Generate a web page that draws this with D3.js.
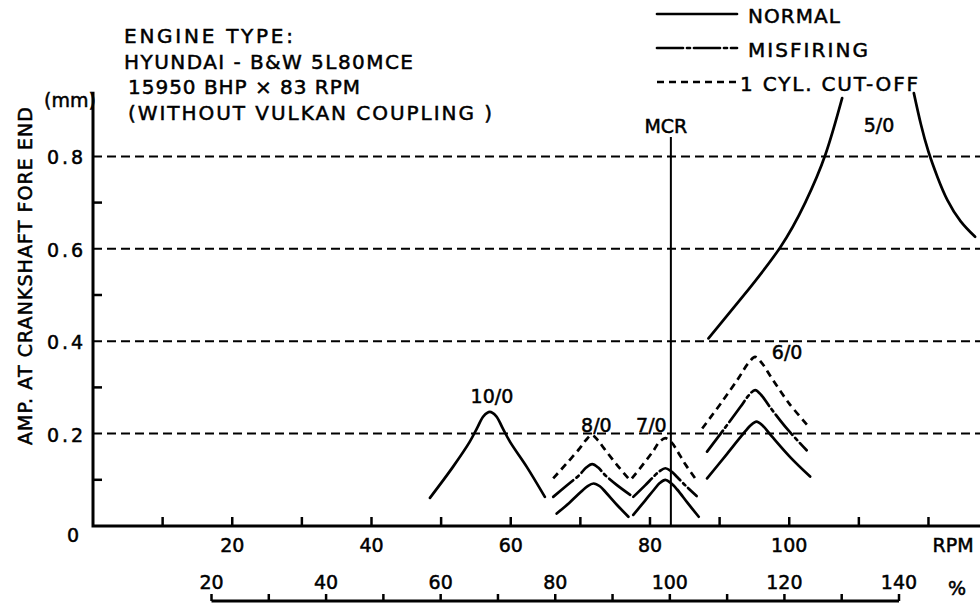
<!DOCTYPE html>
<meta charset="utf-8">
<style>
body { margin: 0; background: #fff; }
svg { font-family: "DejaVu Sans", sans-serif; }
text { fill: #000; stroke: #000; stroke-width: 0.5; }
.axis-line { stroke: #000; stroke-width: 3; fill: none; }
.tick { stroke: #000; stroke-width: 2.5; }
.grid { stroke: #000; stroke-width: 2; stroke-dasharray: 9,5; }
.mcr { stroke: #000; stroke-width: 2; }
.curve { fill: none; stroke: #000; stroke-width: 2.7; stroke-linecap: round; }
.misfiring { stroke-dasharray: 26,4,3,4; }
.cutoff { stroke-dasharray: 7,5; stroke-linecap: butt; }
.lbl { font-size: 19px; }
</style>
<body>
<script src="https://d3js.org/d3.v7.min.js"></script>
<script>

// axes
var rpmTicks = d3.range(10, 121, 10),
    rpmLabels = [20, 40, 60, 80, 100],
    pctTicks = d3.range(20, 141, 10),
    pctLabels = [20, 40, 60, 80, 100, 120, 140],
    ampGrid = [0.2, 0.4, 0.6, 0.8],
    ampMinor = [0.1, 0.3, 0.5, 0.7],
    mcrRpm = 83;

// resonance curves, [rpm, amp mm]
var normal10 = [[48.4,0.061],[51.7,0.128],[54.1,0.182],[55.2,0.213],[56.1,0.238],[57.0,0.247],[57.9,0.238],[58.8,0.213],[59.9,0.182],[62.3,0.128],[64.9,0.063]];

var cutoff8 = [[66.1,0.103],[68.0,0.135],[69.9,0.168],[70.8,0.186],[71.65,0.197],[72.5,0.186],[73.4,0.168],[75.1,0.135],[76.9,0.103]];
var misfire8 = [[66.1,0.063],[68.0,0.087],[69.9,0.111],[70.8,0.126],[71.7,0.134],[72.6,0.126],[73.5,0.111],[75.3,0.088],[77.2,0.067]];
var normal8 = [[66.6,0.027],[68.4,0.05],[70.1,0.074],[71.0,0.086],[71.9,0.092],[72.8,0.086],[73.7,0.072],[75.3,0.045],[76.9,0.020]];

var cutoff7 = [[77.4,0.103],[79.2,0.137],[80.5,0.163],[81.3,0.181],[82.2,0.19],[83.1,0.181],[83.9,0.163],[85.1,0.133],[86.5,0.103]];
var misfire7 = [[77.6,0.063],[79.3,0.088],[80.6,0.108],[81.4,0.119],[82.2,0.125],[83.0,0.119],[83.9,0.106],[85.2,0.086],[86.7,0.065]];
var normal7 = [[77.6,0.024],[79.3,0.055],[80.6,0.079],[81.4,0.093],[82.2,0.10],[83.0,0.093],[83.9,0.079],[85.4,0.05],[87.0,0.020]];

var cutoff6 = [[87.5,0.211],[90.3,0.268],[92.8,0.322],[94.1,0.352],[95.1,0.366],[96.1,0.352],[97.4,0.322],[100.0,0.265],[102.8,0.215]];
var misfire6 = [[88.2,0.161],[90.8,0.213],[93.0,0.258],[94.2,0.283],[95.1,0.294],[96.0,0.283],[97.2,0.258],[99.7,0.21],[102.5,0.164]];
var normal6 = [[88.2,0.103],[90.9,0.153],[93.2,0.196],[94.4,0.217],[95.3,0.226],[96.2,0.217],[97.5,0.194],[100.2,0.148],[103.0,0.107]];

var normal5L = [[88.4,0.406],[93.4,0.498],[98.7,0.603],[102.3,0.700],[105.2,0.804],[107.6,0.926]];
var normal5R = [[117.9,0.937],[118.9,0.870],[120.0,0.810],[121.3,0.755],[122.7,0.706],[124.6,0.660],[126.7,0.626]];

// order labels
var orderNames = ["10/0", "8/0", "7/0", "6/0", "5/0"],
    orderRpm = [57.3, 72.3, 80.2, 99.7, 112.9],
    orderAmp = [0.266, 0.204, 0.204, 0.361, 0.853];

var legendNames = ["NORMAL", "MISFIRING", "1 CYL. CUT-OFF"],
    legendClass = ["normal", "misfiring", "cutoff"];

var headerLines = ["ENGINE TYPE:", "HYUNDAI - B&W 5L80MCE", "15950 BHP \u00d7 83 RPM", "(WITHOUT VULKAN COUPLING )"];

var width = 980, height = 605;

var x = d3.scaleLinear().domain([0, 127.4]).range([93, 980]),
    y = d3.scaleLinear().domain([0, 0.94]).range([526, 91.7]),
    xp = d3.scaleLinear().domain([20, 140]).range([211.5, 899]);

var svg = d3.select("body").append("svg")
    .attr("width", width)
    .attr("height", height);

// grid lines
svg.selectAll(".grid")
    .data(ampGrid).enter()
    .append("line")
    .attr("class", "grid")
    .attr("x1", x(0)).attr("x2", x(127.4))
    .attr("y1", function(d){ return y(d); })
    .attr("y2", function(d){ return y(d); });

// minor y ticks
svg.selectAll(".ytick")
    .data(ampMinor).enter()
    .append("line")
    .attr("class", "tick")
    .attr("x1", x(0)).attr("x2", x(0) + 9)
    .attr("y1", function(d){ return y(d); })
    .attr("y2", function(d){ return y(d); });

// rpm ticks
svg.selectAll(".xtick")
    .data(rpmTicks).enter()
    .append("line")
    .attr("class", "tick")
    .attr("x1", function(d){ return x(d); })
    .attr("x2", function(d){ return x(d); })
    .attr("y1", y(0)).attr("y2", y(0) - 9);

// axes
svg.append("path")
    .attr("class", "axis-line")
    .attr("d", "M" + x(0) + "," + y(0.94) + "V" + y(0) + "H" + x(127.4));

// mcr
svg.append("line")
    .attr("class", "mcr")
    .attr("x1", x(mcrRpm)).attr("x2", x(mcrRpm))
    .attr("y1", 137).attr("y2", y(0));
svg.append("text")
    .attr("class", "lbl")
    .attr("x", x(mcrRpm) - 5).attr("y", 133)
    .attr("text-anchor", "middle")
    .text("MCR");

// y labels
svg.selectAll(".ylab")
    .data(ampGrid).enter()
    .append("text")
    .attr("class", "lbl")
    .attr("text-anchor", "end")
    .attr("x", 83)
    .attr("y", function(d){ return y(d) + 8; })
    .attr("textLength", 36)
    .attr("lengthAdjust", "spacing")
    .text(function(d){ return d.toFixed(1); });
svg.append("text")
    .attr("class", "lbl")
    .attr("text-anchor", "middle")
    .attr("x", 73).attr("y", y(0) + 16)
    .text("0");
svg.append("text")
    .attr("class", "lbl")
    .attr("x", 44).attr("y", 107)
    .text("(mm)");
svg.append("text")
    .attr("class", "lbl")
    .attr("text-anchor", "middle")
    .attr("transform", "translate(32,276) rotate(-90)")
    .attr("textLength", 338)
    .attr("lengthAdjust", "spacing")
    .text("AMP. AT CRANKSHAFT FORE END");

// rpm labels
svg.selectAll(".xlab")
    .data(rpmLabels).enter()
    .append("text")
    .attr("class", "lbl")
    .attr("text-anchor", "middle")
    .attr("x", function(d){ return x(d); })
    .attr("y", 552)
    .text(function(d){ return d; });
svg.append("text")
    .attr("class", "lbl")
    .attr("text-anchor", "middle")
    .attr("x", 953).attr("y", 552)
    .text("RPM");

// percent axis
svg.append("line")
    .attr("class", "axis-line")
    .attr("stroke-width", 2.5)
    .attr("x1", xp(20)).attr("x2", xp(140))
    .attr("y1", 601).attr("y2", 601);
svg.selectAll(".ptick")
    .data(pctTicks).enter()
    .append("line")
    .attr("class", "tick")
    .attr("x1", function(d){ return xp(d); })
    .attr("x2", function(d){ return xp(d); })
    .attr("y1", 601).attr("y2", 594);
svg.selectAll(".plab")
    .data(pctLabels).enter()
    .append("text")
    .attr("class", "lbl")
    .attr("text-anchor", "middle")
    .attr("x", function(d){ return xp(d); })
    .attr("y", 589)
    .text(function(d){ return d; });
svg.append("text")
    .attr("class", "lbl")
    .attr("text-anchor", "middle")
    .attr("x", 957).attr("y", 595)
    .text("%");

// curves
var peakLine = d3.line()
    .x(function(d){ return x(d[0]); })
    .y(function(d){ return y(d[1]); })
    .curve(d3.curveCatmullRom.alpha(0.5));
var flankLine = d3.line()
    .x(function(d){ return x(d[0]); })
    .y(function(d){ return y(d[1]); })
    .curve(d3.curveNatural);

var curves = [
    [normal10, "normal"],
    [cutoff8, "cutoff"], [misfire8, "misfiring"], [normal8, "normal"],
    [cutoff7, "cutoff"], [misfire7, "misfiring"], [normal7, "normal"],
    [cutoff6, "cutoff"], [misfire6, "misfiring"], [normal6, "normal"]
];

svg.selectAll(".peak")
    .data(curves).enter()
    .append("path")
    .attr("class", function(d){ return "curve " + d[1]; })
    .attr("d", function(d){ return peakLine(d[0]); });

svg.selectAll(".flank")
    .data([normal5L, normal5R]).enter()
    .append("path")
    .attr("class", "curve normal")
    .attr("d", flankLine);

svg.selectAll(".order")
    .data(orderNames).enter()
    .append("text")
    .attr("class", "lbl")
    .attr("font-size", 20)
    .attr("text-anchor", "middle")
    .attr("x", function(d, i){ return x(orderRpm[i]); })
    .attr("y", function(d, i){ return y(orderAmp[i]); })
    .text(function(d){ return d; });

// header
var headerWidths = [169, 289, 232, 364],
    headerX = [124, 124, 128, 128];
svg.selectAll(".header")
    .data(headerLines).enter()
    .append("text")
    .attr("font-size", 20)
    .attr("x", function(d, i){ return headerX[i]; })
    .attr("y", function(d, i){ return 43 + i * 25.5; })
    .attr("textLength", function(d, i){ return headerWidths[i]; })
    .attr("lengthAdjust", "spacing")
    .text(function(d){ return d; });

// legend
var legendWidths = [92, 120, 178],
    legendTextX = [748, 748, 740];
var lg = svg.selectAll(".legend")
    .data(legendNames).enter()
    .append("g")
    .attr("transform", function(d, i){ return "translate(0," + (i * 34) + ")"; });
lg.append("line")
    .attr("class", function(d, i){ return "curve " + legendClass[i]; })
    .attr("stroke-width", 2)
    .attr("x1", 657).attr("x2", 737)
    .attr("y1", 14).attr("y2", 14);
lg.append("text")
    .attr("font-size", 20)
    .attr("x", function(d, i){ return legendTextX[i]; })
    .attr("y", 23)
    .attr("textLength", function(d, i){ return legendWidths[i]; })
    .attr("lengthAdjust", "spacing")
    .text(function(d){ return d; });

</script>
